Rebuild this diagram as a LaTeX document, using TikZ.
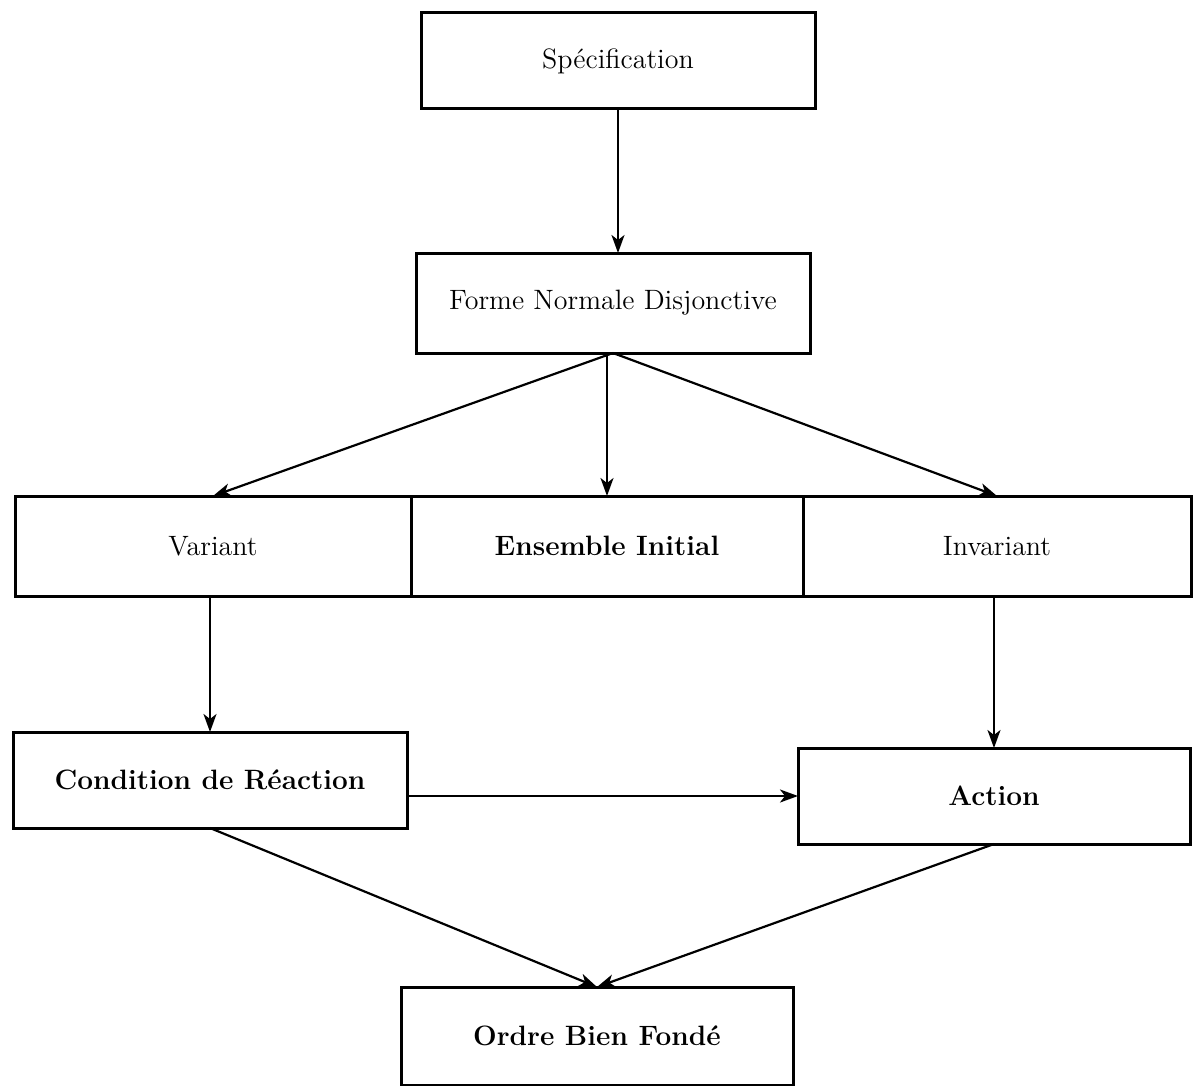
\documentclass[tikz,border=0pt]{standalone}
\usetikzlibrary{arrows.meta, positioning}

\begin{document}
\begin{tikzpicture}[x=0.5pt, y=-0.5pt,
  box/.style={draw, line width=1.5pt, rectangle, minimum height=48pt, inner sep=0pt, outer sep=0pt, font=\fontsize{14}{16}\selectfont},
  boldbox/.style={box, font=\fontsize{14}{16}\selectfont\bfseries},
  flow/.style={-{Stealth[length=9pt, width=6.5pt, inset=2.5pt]}, line width=1.1pt}]
\useasboundingbox (0,0) rectangle (1194,1086);

\node[box, minimum width=197pt] (Spec) at (618,61) {Spécification};
\node[box, minimum width=197pt, minimum height=50pt] (FND) at (613,303) {Forme Normale Disjonctive};

% the three parts side by side
\node[box, minimum width=198pt, minimum height=50pt] (Var) at (213,546) {Variant};
\node[boldbox, minimum width=196pt, minimum height=50pt, right=0pt of Var] (Ens) {Ensemble Initial};
\node[box, minimum width=194pt, minimum height=50pt, right=0pt of Ens] (Inv) {Invariant};

\node[boldbox, minimum width=197pt] (Cond) at (210,780) {Condition de Réaction};
\node[boldbox, minimum width=196pt] (Act) at (994,796) {Action};
\node[boldbox, minimum width=196pt, minimum height=49pt] (Ordre) at (597,1036) {Ordre Bien Fondé};

\draw[flow] (Spec.south) -- (Spec.south |- FND.north);
\draw[flow] (FND.south) -- (Var.north);
\draw[flow] (Ens.north |- FND.south) -- (Ens.north);
\draw[flow] (FND.south) -- (Inv.north);
\draw[flow] (Cond.north |- Var.south) -- (Cond.north);
\draw[flow] (Act.north |- Inv.south) -- (Act.north);
\draw[flow] (Act.west -| Cond.east) -- (Act.west);
\draw[flow] (Cond.south) -- (Ordre.north);
\draw[flow] (Act.south) -- (Ordre.north);
\end{tikzpicture}
\end{document}
